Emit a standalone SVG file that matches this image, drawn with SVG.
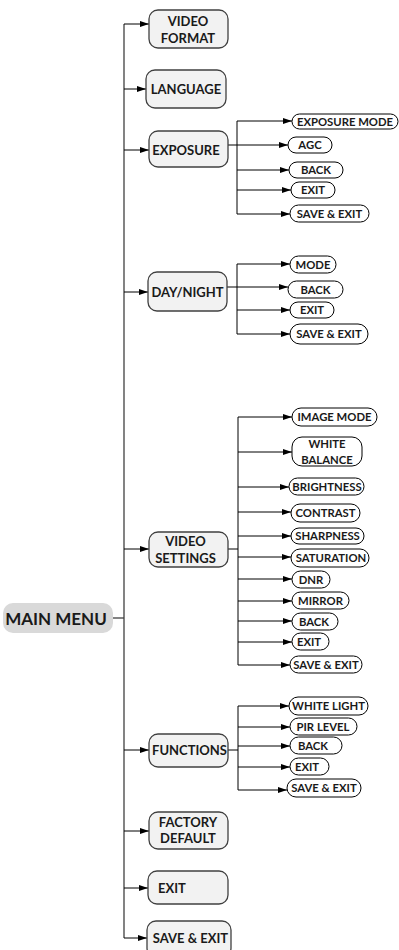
<svg xmlns="http://www.w3.org/2000/svg" width="399" height="950" viewBox="0 0 399 950">
<style>
.mb{fill:#f2f2f2;stroke:#404040;stroke-width:1.3}
.sb{fill:#ffffff;stroke:#000000;stroke-width:1}
.mt{font-family:Lato,"Liberation Sans",sans-serif;font-weight:bold;font-size:13px;fill:#1a1a1a;text-anchor:middle}
.st{font-family:Lato,"Liberation Sans",sans-serif;font-weight:bold;font-size:11.3px;fill:#1a1a1a;text-anchor:middle}
.ln{fill:none;stroke:#000000;stroke-width:1}
.sp{fill:none;stroke:#404040;stroke-width:1.3}
</style>
<defs>
<marker id="ah" markerUnits="userSpaceOnUse" markerWidth="9" markerHeight="7" refX="9" refY="3.5" orient="auto">
<path d="M0,0.5 L9,3.5 L0,6.5 z" fill="#000000"/>
</marker>
</defs>
<g id="connectors">
<path class="sp" d="M124,24 V938"/>
<path class="sp" d="M113,618 H124"/>
<path class="ln" marker-end="url(#ah)" d="M124,24 H149"/>
<path class="ln" marker-end="url(#ah)" d="M124,89 H146"/>
<path class="ln" marker-end="url(#ah)" d="M124,150 H149"/>
<path class="ln" marker-end="url(#ah)" d="M124,292 H148"/>
<path class="ln" marker-end="url(#ah)" d="M124,549 H149"/>
<path class="ln" marker-end="url(#ah)" d="M124,750 H149"/>
<path class="ln" marker-end="url(#ah)" d="M124,831 H149"/>
<path class="ln" marker-end="url(#ah)" d="M124,888 H148"/>
<path class="ln" marker-end="url(#ah)" d="M124,938 H147"/>
<path class="ln" d="M228,145 H237 M237,121 V214"/>
<path class="ln" marker-end="url(#ah)" d="M237,121 H292"/>
<path class="ln" marker-end="url(#ah)" d="M237,145 H288"/>
<path class="ln" marker-end="url(#ah)" d="M237,170 H289"/>
<path class="ln" marker-end="url(#ah)" d="M237,190 H291"/>
<path class="ln" marker-end="url(#ah)" d="M237,214 H290"/>
<path class="ln" d="M227,287 H237 M237,264 V334"/>
<path class="ln" marker-end="url(#ah)" d="M237,264 H290"/>
<path class="ln" marker-end="url(#ah)" d="M237,287 H288"/>
<path class="ln" marker-end="url(#ah)" d="M237,310 H290"/>
<path class="ln" marker-end="url(#ah)" d="M237,334 H290"/>
<path class="ln" d="M228,549 H238 M238,417 V665"/>
<path class="ln" marker-end="url(#ah)" d="M238,417 H292"/>
<path class="ln" marker-end="url(#ah)" d="M238,452 H292"/>
<path class="ln" marker-end="url(#ah)" d="M238,487 H289"/>
<path class="ln" marker-end="url(#ah)" d="M238,512 H291"/>
<path class="ln" marker-end="url(#ah)" d="M238,536 H291"/>
<path class="ln" marker-end="url(#ah)" d="M238,557 H291"/>
<path class="ln" marker-end="url(#ah)" d="M238,579 H292"/>
<path class="ln" marker-end="url(#ah)" d="M238,601 H292"/>
<path class="ln" marker-end="url(#ah)" d="M238,621 H292"/>
<path class="ln" marker-end="url(#ah)" d="M238,642 H292"/>
<path class="ln" marker-end="url(#ah)" d="M238,665 H290"/>
<path class="ln" d="M228,750 H238 M238,706 V790"/>
<path class="ln" marker-end="url(#ah)" d="M238,706 H289"/>
<path class="ln" marker-end="url(#ah)" d="M238,727 H290"/>
<path class="ln" marker-end="url(#ah)" d="M238,746 H290"/>
<path class="ln" marker-end="url(#ah)" d="M238,767 H290"/>
<path class="ln" marker-end="url(#ah)" d="M238,790 H287"/>
</g>
<g id="main-menu"><rect x="3" y="603" width="110" height="30" rx="10" fill="#d9d9d9"/><text x="56" y="624.5" font-family="Lato,'Liberation Sans',sans-serif" font-weight="bold" font-size="17px" fill="#1a1a1a" text-anchor="middle">MAIN MENU</text></g>
<g id="video-format"><rect class="mb" x="149" y="10" width="79" height="38" rx="9"/><text class="mt" x="188" y="26">VIDEO</text><text class="mt" x="188" y="43">FORMAT</text></g>
<g id="language"><rect class="mb" x="146" y="70" width="80" height="38" rx="9"/><text class="mt" x="186" y="94">LANGUAGE</text></g>
<g id="exposure"><rect class="mb" x="149" y="131" width="79" height="36" rx="9"/><text class="mt" x="186" y="155">EXPOSURE</text></g>
<g id="day-night"><rect class="mb" x="148" y="272" width="79" height="39" rx="9"/><text class="mt" x="187.5" y="297">DAY/NIGHT</text></g>
<g id="video-settings"><rect class="mb" x="149" y="532" width="79" height="35" rx="9"/><text class="mt" x="185.5" y="546">VIDEO</text><text class="mt" x="185.5" y="563">SETTINGS</text></g>
<g id="functions"><rect class="mb" x="149" y="734" width="79" height="33" rx="9"/><text class="mt" x="189.5" y="755">FUNCTIONS</text></g>
<g id="factory-default"><rect class="mb" x="149" y="812" width="79" height="37" rx="9"/><text class="mt" x="188" y="827">FACTORY</text><text class="mt" x="188" y="843">DEFAULT</text></g>
<g id="exit"><rect class="mb" x="148" y="871" width="80" height="33" rx="9"/><text class="mt" x="158" y="893" style="text-anchor:start">EXIT</text></g>
<g id="save-exit"><rect class="mb" x="147" y="921" width="84" height="36" rx="9"/><text class="mt" x="190.5" y="943">SAVE &amp; EXIT</text></g>
<g id="exp-mode"><rect class="sb" x="292" y="114" width="106" height="15" rx="7.5"/><text class="st" x="345" y="125.5">EXPOSURE MODE</text></g>
<g id="exp-agc"><rect class="sb" x="288" y="137" width="44" height="16" rx="8"/><text class="st" x="310" y="149">AGC</text></g>
<g id="exp-back"><rect class="sb" x="289" y="162" width="54" height="16" rx="8"/><text class="st" x="316" y="174">BACK</text></g>
<g id="exp-exit"><rect class="sb" x="291" y="182" width="44" height="16" rx="8"/><text class="st" x="313" y="194">EXIT</text></g>
<g id="exp-save"><rect class="sb" x="290" y="205" width="79" height="17" rx="8.5"/><text class="st" x="329.5" y="217.5">SAVE &amp; EXIT</text></g>
<g id="dn-mode"><rect class="sb" x="290" y="256" width="46" height="17" rx="8.5"/><text class="st" x="313" y="268.5">MODE</text></g>
<g id="dn-back"><rect class="sb" x="288" y="281" width="55" height="17" rx="8.5"/><text class="st" x="315.5" y="293.5">BACK</text></g>
<g id="dn-exit"><rect class="sb" x="290" y="302" width="44" height="16" rx="8"/><text class="st" x="312" y="314">EXIT</text></g>
<g id="dn-save"><rect class="sb" x="290" y="324" width="78" height="20" rx="10"/><text class="st" x="329" y="338">SAVE &amp; EXIT</text></g>
<g id="vs-image-mode"><rect class="sb" x="292" y="408" width="85" height="18" rx="9"/><text class="st" x="334.5" y="421">IMAGE MODE</text></g>
<g id="vs-white-balance"><rect class="sb" x="292" y="437" width="70" height="29" rx="10"/><text class="st" x="327" y="448">WHITE</text><text class="st" x="327" y="464">BALANCE</text></g>
<g id="vs-brightness"><rect class="sb" x="289" y="478" width="75" height="17" rx="8.5"/><text class="st" x="327" y="490.5">BRIGHTNESS</text></g>
<g id="vs-contrast"><rect class="sb" x="291" y="504" width="69" height="18" rx="9"/><text class="st" x="325.5" y="517">CONTRAST</text></g>
<g id="vs-sharpness"><rect class="sb" x="291" y="528" width="73" height="16" rx="8"/><text class="st" x="327.5" y="540">SHARPNESS</text></g>
<g id="vs-saturation"><rect class="sb" x="291" y="549" width="78" height="18" rx="9"/><text class="st" x="331" y="562">SATURATION</text></g>
<g id="vs-dnr"><rect class="sb" x="292" y="571" width="38" height="17" rx="8.5"/><text class="st" x="311" y="583.5">DNR</text></g>
<g id="vs-mirror"><rect class="sb" x="292" y="592" width="57" height="17" rx="8.5"/><text class="st" x="320.5" y="604.5">MIRROR</text></g>
<g id="vs-back"><rect class="sb" x="292" y="613" width="46" height="17" rx="8.5"/><text class="st" x="314" y="625.5">BACK</text></g>
<g id="vs-exit"><rect class="sb" x="292" y="633" width="37" height="17" rx="8.5"/><text class="st" x="309" y="645.5">EXIT</text></g>
<g id="vs-save"><rect class="sb" x="290" y="656" width="72" height="17" rx="8.5"/><text class="st" x="326" y="668.5">SAVE &amp; EXIT</text></g>
<g id="fn-white-light"><rect class="sb" x="289" y="697" width="79" height="18" rx="9"/><text class="st" x="328.5" y="710">WHITE LIGHT</text></g>
<g id="fn-pir"><rect class="sb" x="290" y="718" width="67" height="17" rx="8.5"/><text class="st" x="323" y="730.5">PIR LEVEL</text></g>
<g id="fn-back"><rect class="sb" x="290" y="737" width="52" height="17" rx="8.5"/><text class="st" x="313" y="749.5">BACK</text></g>
<g id="fn-exit"><rect class="sb" x="290" y="758" width="39" height="17" rx="8.5"/><text class="st" x="307" y="770.5">EXIT</text></g>
<g id="fn-save"><rect class="sb" x="287" y="779" width="74" height="18" rx="9"/><text class="st" x="324" y="792">SAVE &amp; EXIT</text></g>
</svg>
